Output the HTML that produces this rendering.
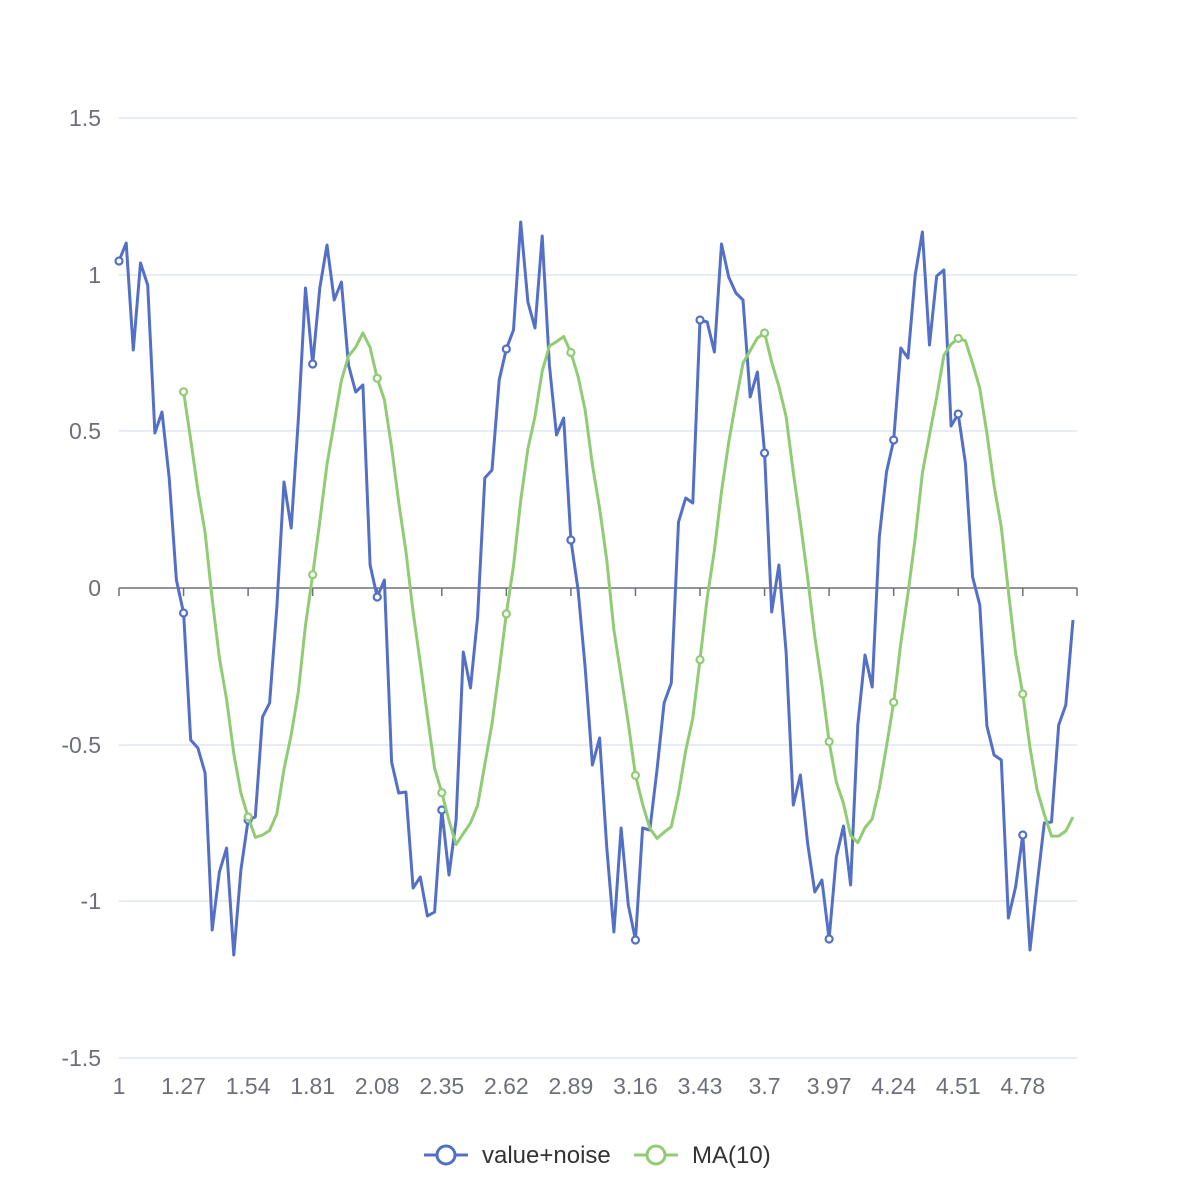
<!DOCTYPE html>
<html><head><meta charset="utf-8"><style>
html,body{margin:0;padding:0;background:#fff;}
svg text{font-family:"Liberation Sans",sans-serif;}
</style></head><body>
<svg id="s" width="1196" height="1196" xmlns="http://www.w3.org/2000/svg">
<rect width="1196" height="1196" fill="#fff"/>
</svg>
<script>
const Y=[261,243,350,263,285,433,412,478,580,613,740,748,773,930,872,848,955,870,820,817,717,703,608,482,528,420,288,364,288,245,300,282,365,392,385,565,597,580,762,793,792,888,877,916,912,810,875,820,652,688,617,478,470,380,349,330,222,302,328,236,365,435,418,540,590,668,765,738,848,932,828,905,940,828,830,770,703,683,522,498,503,320,322,352,244,277,293,300,397,372,453,612,565,652,805,775,843,892,880,939,857,826,885,725,655,687,537,472,440,348,358,275,232,345,276,270,426,414,463,577,605,726,755,760,918,887,835,950,885,823,822,725,705,620];
const s=document.getElementById('s');const NS='http://www.w3.org/2000/svg';
function el(t,a,txt){const e=document.createElementNS(NS,t);for(const k in a)e.setAttribute(k,a[k]);if(txt!==undefined)e.textContent=txt;s.appendChild(e);return e;}
const x0=119,x1=1077,dx=(1073-119)/133;
const X=i=>x0+i*dx;
const yl=[[118,'1.5'],[275,'1'],[431,'0.5'],[588,'0'],[745,'-0.5'],[901,'-1'],[1058,'-1.5']];
yl.forEach(([y,t])=>{if(t!=='0')el('line',{x1:x0,x2:x1,y1:y,y2:y,stroke:'#e0e6f1','stroke-width':1.5});
el('text',{x:101,y:y+8,'font-size':23,fill:'#6e7079','text-anchor':'end'},t);});
el('line',{x1:x0,x2:x1,y1:588,y2:588,stroke:'#6e7079','stroke-width':1.5});
for(let i=0;i<=133;i+=9){const x=X(i);el('line',{x1:x,x2:x,y1:588,y2:596,stroke:'#6e7079','stroke-width':1.5});
el('text',{x:x,y:1094,'font-size':23,fill:'#6e7079','text-anchor':'middle'},(1+i*0.03).toFixed(2).replace(/\.?0+$/,''));}
el('line',{x1:x1,x2:x1,y1:588,y2:596,stroke:'#6e7079','stroke-width':1.5});
const MA=[];for(let i=9;i<134;i++){let t=0;for(let j=i-9;j<=i;j++)t+=Y[j];MA.push([i,t/10]);}
function series(pts,c){el('path',{d:pts.map((p,k)=>(k?'L':'M')+X(p[0]).toFixed(1)+' '+p[1]).join(' '),fill:'none',stroke:c,'stroke-width':3,'stroke-linejoin':'round'});
pts.forEach(p=>{if(p[0]%9===0)el('circle',{cx:X(p[0]),cy:p[1],r:3.5,fill:'#fff',stroke:c,'stroke-width':2.2});});}
series(Y.map((y,i)=>[i,y]),'#5470c6');
series(MA,'#91cc75');
function leg(x,c,t){el('line',{x1:x,x2:x+44,y1:1155,y2:1155,stroke:c,'stroke-width':3});
el('circle',{cx:x+22,cy:1155,r:9,fill:'#fff',stroke:c,'stroke-width':3});
el('text',{x:x+58,y:1163,'font-size':24,fill:'#333'},t);}
leg(424,'#5470c6','value+noise');leg(634,'#91cc75','MA(10)');
</script>
</body></html>
